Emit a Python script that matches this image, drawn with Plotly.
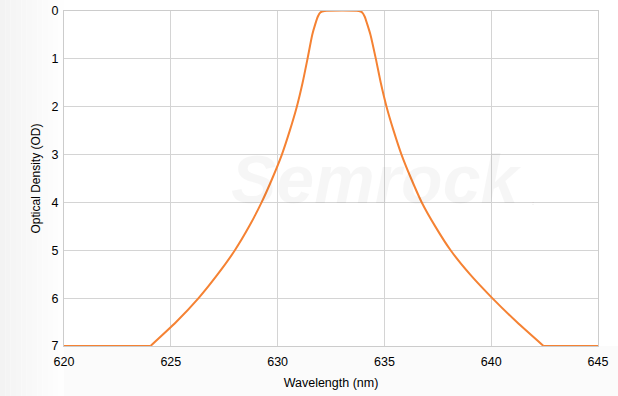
import plotly.graph_objects as go

# flat floor on the left, the filter edge curve, flat floor on the right (None = gap)
wavelength = [620, 624.05, None,
              624.05, 625.25, 626.3, 627.2, 628.0, 628.67, 629.25, 629.75, 630.2,
              630.57, 630.9, 631.17, 631.4, 631.62, 631.76, 631.88, 632.0, 632.2,
              633.8, 633.96, 634.08, 634.2, 634.35, 634.6, 634.83, 635.1, 635.43,
              635.8, 636.25, 636.75, 637.38, 638.1, 639.0, 640.05, 641.2, 642.45, None,
              642.45, 645]
od = [7, 7, None,
      7, 6.5, 6.0, 5.5, 5.0, 4.5, 4.0, 3.5, 3.0,
      2.5, 2.0, 1.5, 1.0, 0.5, 0.28, 0.12, 0.03, 0,
      0, 0.03, 0.12, 0.28, 0.5, 1.0, 1.5, 2.0, 2.5,
      3.0, 3.5, 4.0, 4.5, 5.0, 5.5, 6.0, 6.5, 7.0, None,
      7, 7]

x_ticks = [620, 625, 630, 635, 640, 645]
y_ticks = [0, 1, 2, 3, 4, 5, 6, 7]

fig = go.Figure()
fig.add_trace(go.Scatter(x=wavelength, y=od, mode="lines", cliponaxis=False, connectgaps=False,
                         line=dict(color="#f58233", width=2, shape="spline", smoothing=0.6),
                         hoverinfo="skip", showlegend=False))

font = dict(family="Liberation Sans, Arial, sans-serif", size=12, color="#000000")

# left soft gradient in the background
shapes = []
n = 12
for i in range(n):
    g = 243 + int(12 * i / n)
    shapes.append(dict(type="rect", xref="paper", yref="paper",
                       x0=-0.12 + i * 0.12 / n, x1=-0.12 + (i + 1) * 0.12 / n,
                       y0=-0.2, y1=1.05, fillcolor=f"rgb({g},{g},{g})",
                       line=dict(width=0), layer="below"))
shapes.append(dict(type="rect", xref="paper", yref="paper", x0=0, x1=1.04, y0=-0.16, y1=0,
                   fillcolor="#fbfbfb", line=dict(width=0), layer="below"))

fig.update_layout(
    width=618, height=396,
    margin=dict(l=64, r=20, t=11, b=50, autoexpand=False),
    paper_bgcolor="#ffffff", plot_bgcolor="#ffffff",
    font=font,
    shapes=shapes,
    xaxis=dict(range=[620, 645], tickvals=x_ticks, ticktext=[str(v) for v in x_ticks],
               showgrid=True, gridcolor="#d4d4d4", gridwidth=1, automargin=False,
               showline=True, linecolor="#cccccc", linewidth=1, mirror=True, layer="below traces",
               ticks="", zeroline=False, tickfont=dict(font, size=12.5), ticklabelstandoff=4,
               title=dict(text="Wavelength (nm)", font=dict(font, size=12.5), standoff=10)),
    yaxis=dict(range=[7, 0], tickvals=y_ticks, ticktext=[str(v) for v in y_ticks],
               showgrid=True, gridcolor="#d4d4d4", gridwidth=1, automargin=False,
               showline=True, linecolor="#cccccc", linewidth=1, mirror=True, layer="below traces",
               ticks="", zeroline=False, tickfont=dict(font, size=12.5), ticklabelstandoff=2,
               title=dict(text="Optical Density (OD)", font=font, standoff=8)),
    annotations=[dict(text="<b><i>Semrock</i></b>", x=0.585, y=0.5, xref="paper", yref="paper",
                      showarrow=False, font=dict(family="Liberation Sans, Arial", size=68,
                                                 color="rgba(0,0,0,0.035)")),
                 dict(text="®", x=0.89, y=0.42, xref="paper", yref="paper", showarrow=False,
                      font=dict(family="Liberation Sans, Arial", size=9, color="rgba(0,0,0,0.06)"))],
)

fig.write_html("out.html")
